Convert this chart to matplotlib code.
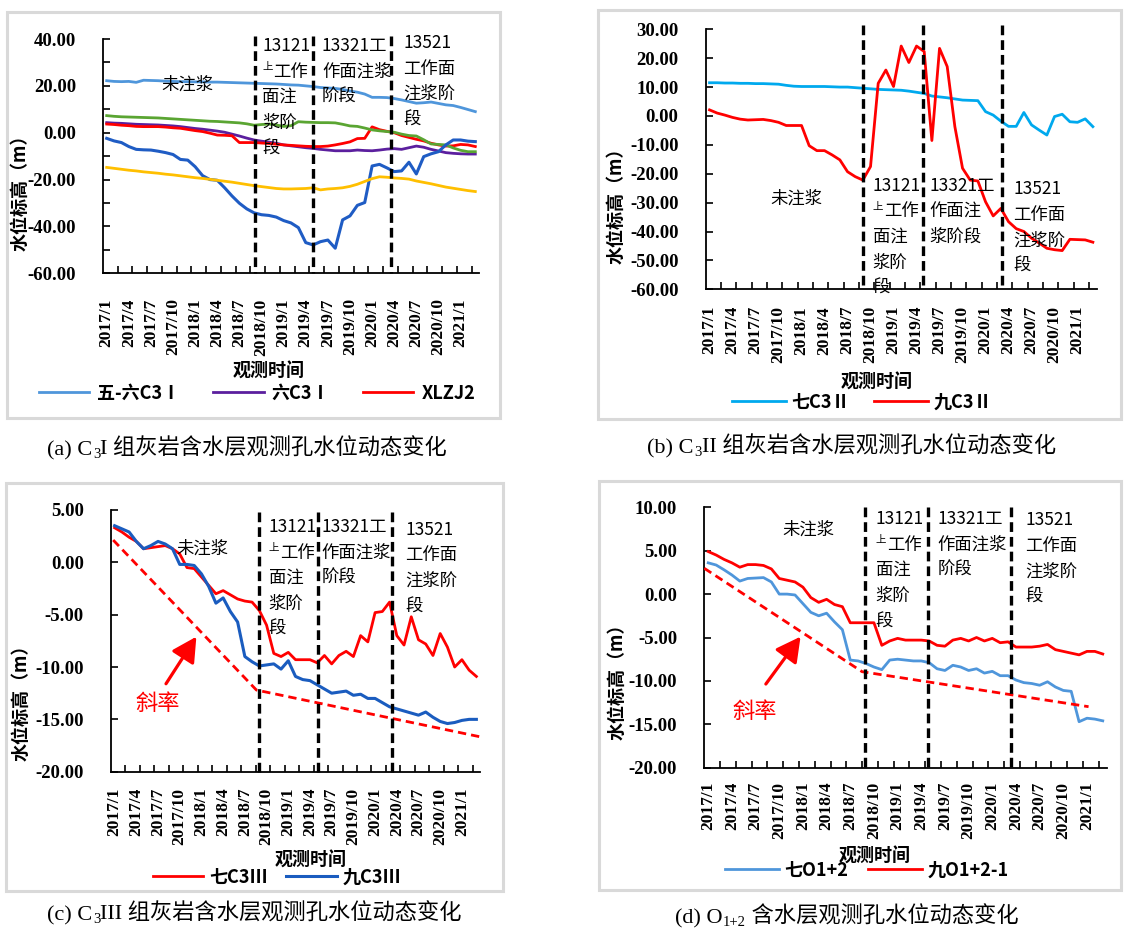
import numpy as np
import matplotlib
matplotlib.use("Agg")
import matplotlib.pyplot as plt
from matplotlib.patches import Rectangle
from matplotlib.ticker import FormatStrFormatter

plt.rcParams["lines.scale_dashes"] = False

CJK = ["Noto Sans CJK SC", "DejaVu Sans"]
SERIF = ["Liberation Serif", "Noto Sans CJK SC"]

W, H = 1124, 930

# ---- data (monthly, 2017/1 .. 2021/3) ----
months = np.arange(51)
label_idx = np.arange(0, 49, 3)
tick_labels = ["2017/1", "2017/4", "2017/7", "2017/10",
               "2018/1", "2018/4", "2018/7", "2018/10",
               "2019/1", "2019/4", "2019/7", "2019/10",
               "2020/1", "2020/4", "2020/7", "2020/10", "2021/1"]

# (a) C3 I
a_wuliu = [22.2, 21.9, 21.8, 21.9, 21.5, 22.4, 22.3, 22.2, 22.0, 21.9,
           21.8, 21.8, 21.7, 21.7, 21.6, 21.6, 21.5, 21.4, 21.3, 21.2,
           21.1, 21.0, 20.9, 20.8, 20.6, 20.4, 20.3, 20.0, 19.7, 19.3,
           19.1, 18.9, 18.5, 17.8, 17.3, 16.5, 15.1, 15.1, 15.0, 14.6,
           14.0, 13.3, 12.6, 12.8, 13.1, 12.5, 11.9, 11.6, 10.8, 9.9, 9.0]
a_liu = [4.3, 4.1, 4.0, 3.8, 3.6, 3.5, 3.4, 3.3, 3.1, 2.9,
         2.6, 2.2, 1.8, 1.5, 1.1, 0.7, 0.2, -0.6, -1.4, -2.3,
         -3.1, -3.6, -4.0, -4.5, -5.2, -5.6, -6.0, -6.4, -6.7, -7.1,
         -7.4, -7.7, -7.7, -7.7, -7.4, -7.6, -7.7, -7.4, -7.0, -6.8,
         -7.1, -6.4, -5.7, -6.2, -7.1, -7.8, -8.5, -8.8, -9.0, -9.1, -9.1]
a_xlzj2 = [3.7, 3.5, 3.2, 3.0, 2.7, 2.6, 2.6, 2.6, 2.4, 2.1,
           1.9, 1.4, 0.9, 0.5, -0.2, -1.0, -1.1, -1.3, -4.2, -4.2,
           -4.2, -4.4, -4.6, -4.9, -5.2, -5.4, -5.6, -5.8, -5.9, -5.9,
           -5.7, -5.2, -4.6, -3.9, -2.5, -2.4, 2.5, 1.3, 0.6, 0.0,
           -1.2, -2.0, -2.8, -3.5, -4.5, -5.2, -5.7, -5.6, -5.0, -5.2, -5.9]
a_green = [7.3, 7.0, 6.8, 6.7, 6.6, 6.5, 6.4, 6.3, 6.1, 5.9,
           5.7, 5.5, 5.3, 5.1, 4.9, 4.8, 4.6, 4.4, 4.2, 3.8,
           3.2, 3.5, 3.7, 3.3, 2.7, 3.0, 4.7, 4.5, 4.4, 4.3,
           4.3, 4.2, 3.6, 2.9, 2.7, 2.0, 1.2, 0.8, 0.5, 0.2,
           -0.6, -1.2, -1.4, -3.0, -4.8, -5.0, -5.2, -6.5, -7.5, -8.1, -8.1]
a_blue = [-2.4, -3.5, -4.2, -5.9, -7.1, -7.3, -7.4, -7.9, -8.5, -9.3,
          -11.4, -11.7, -14.5, -18.3, -20.0, -20.3, -23.5, -27.0, -30.1, -32.5,
          -34.2, -35.0, -35.3, -36.0, -37.5, -38.5, -40.5, -46.9, -47.9, -46.5,
          -45.8, -49.3, -37.2, -35.5, -31.0, -29.8, -14.2, -13.5, -15.0, -16.6,
          -16.3, -12.6, -17.6, -10.2, -9.0, -8.1, -5.2, -3.1, -3.1, -3.6, -3.8]
a_orange = [-14.8, -15.2, -15.6, -16.0, -16.3, -16.7, -17.0, -17.3, -17.7, -18.0,
            -18.4, -18.8, -19.2, -19.5, -19.9, -20.3, -20.7, -21.1, -21.6, -22.1,
            -22.6, -23.0, -23.4, -23.8, -24.0, -24.0, -23.9, -23.8, -23.5, -24.4,
            -24.0, -23.8, -23.5, -22.9, -22.0, -20.8, -19.6, -18.8, -19.0, -19.3,
            -19.5, -19.8, -20.6, -21.2, -21.8, -22.5, -23.2, -23.7, -24.2, -24.7, -25.1]

# (b) C3 II
b_qi = [11.5, 11.5, 11.4, 11.4, 11.3, 11.3, 11.2, 11.2, 11.1, 11.0,
        10.6, 10.3, 10.2, 10.2, 10.2, 10.2, 10.1, 10.0, 10.0, 9.8,
        9.6, 9.4, 9.2, 9.1, 9.0, 8.9, 8.6, 8.2, 7.8, 6.9,
        6.6, 6.3, 5.9, 5.5, 5.4, 5.3, 1.5, 0.3, -1.8, -3.6,
        -3.6, 1.2, -3.1, -4.9, -6.6, -0.2, 0.6, -2.0, -2.2, -1.0, -3.7]
b_jiu = [2.1, 1.0, 0.3, -0.5, -1.1, -1.4, -1.3, -1.2, -1.6, -2.2,
         -3.3, -3.3, -3.3, -10.3, -12.0, -12.0, -13.5, -15.2, -19.3, -21.0,
         -22.2, -17.5, 11.3, 15.9, 10.2, 24.2, 18.5, 24.2, 22.3, -8.5,
         23.4, 17.1, -3.7, -18.1, -22.2, -22.5, -29.7, -34.6, -32.0, -36.6,
         -39.0, -40.0, -42.3, -44.0, -45.8, -46.3, -46.6, -42.7, -42.8, -42.9, -43.7]

# (c) C3 III
c_qi = [3.3, 2.9, 2.4, 2.0, 1.3, 1.4, 1.5, 1.6, 1.3, 0.8,
        -0.5, -0.6, -1.4, -2.2, -3.0, -2.7, -3.1, -3.5, -3.7, -3.8,
        -4.6, -6.0, -8.7, -9.0, -8.6, -9.3, -9.3, -9.3, -9.6, -8.9,
        -9.7, -8.9, -8.5, -9.0, -7.0, -7.6, -4.8, -4.7, -3.8, -7.0,
        -7.9, -5.2, -7.4, -7.8, -8.9, -6.8, -8.1, -10.0, -9.3, -10.3, -10.9]
c_jiu = [3.5, 3.2, 2.9, 2.0, 1.3, 1.6, 2.0, 1.75, 1.3, -0.2,
         -0.2, -0.3, -1.1, -2.3, -3.9, -3.4, -4.7, -5.7, -9.0, -9.5,
         -9.9, -9.8, -9.7, -10.2, -9.4, -10.9, -11.2, -11.3, -11.7, -12.1,
         -12.5, -12.4, -12.3, -12.7, -12.6, -13.0, -13.0, -13.4, -13.8, -14.0,
         -14.2, -14.4, -14.6, -14.3, -14.8, -15.2, -15.4, -15.3, -15.1, -15.0, -15.0]
c_slope_x = [-0.2, 19.6, 50.4]
c_slope_y = [2.13, -12.2, -16.65]

# (d) O1+2
d_qi = [3.6, 3.35, 2.8, 2.2, 1.5, 1.8, 1.85, 1.9, 1.4, 0.0,
        0.0, -0.1, -1.1, -2.1, -2.5, -2.2, -3.2, -4.1, -7.6, -7.7,
        -8.0, -8.4, -8.7, -7.6, -7.5, -7.6, -7.7, -7.7, -7.9, -8.6,
        -8.8, -8.2, -8.4, -8.8, -8.6, -9.1, -8.9, -9.4, -9.4, -9.9,
        -10.2, -10.3, -10.5, -10.1, -10.7, -11.1, -11.2, -14.7, -14.3, -14.4, -14.6]
d_jiu = [4.9, 4.5, 4.0, 3.6, 3.1, 3.4, 3.4, 3.3, 2.9, 1.8,
         1.6, 1.4, 0.8, -0.4, -0.95, -0.6, -1.2, -1.45, -3.3, -3.3,
         -3.3, -3.3, -5.9, -5.4, -5.1, -5.3, -5.3, -5.3, -5.4, -5.9,
         -6.0, -5.3, -5.1, -5.4, -5.0, -5.4, -5.1, -5.6, -5.5, -6.1,
         -6.1, -6.1, -6.0, -5.8, -6.4, -6.6, -6.8, -7.0, -6.6, -6.6, -6.9]
d_slope_x = [-0.5, 19.5, 48.2]
d_slope_y = [2.97, -8.94, -12.97]

stages_a = [20.1, 28.0, 38.6]
stages_b = [20.0, 27.9, 38.2]
stages_c = [20.0, 28.1, 38.35]
stages_d = [19.9, 27.9, 38.4]

fig = plt.figure(figsize=(W / 100, H / 100), dpi=100)


def fpos(x, y):
    return x / W, 1 - y / H


def panel(box, rect, ylim, ystep, yminor, xpad):
    l, t, r, b = box
    fig.add_artist(Rectangle(fpos(l, b), (r - l) / W, (b - t) / H,
                             transform=fig.transFigure, fill=False,
                             ec="#D9D9D9", lw=2.2))
    l, t, r, b = rect
    ax = fig.add_axes([l / W, 1 - b / H, (r - l) / W, (b - t) / H])
    ax.patch.set_alpha(0)
    ax.set_xlim(-0.5, len(months) - 0.5)
    ax.set_ylim(ylim)
    ax.spines[["top", "right"]].set_visible(False)
    ax.spines[["left", "bottom"]].set_linewidth(1.3)
    ax.set_yticks(np.arange(ylim[0], ylim[1] + 0.01, ystep))
    if yminor:
        ax.set_yticks(np.arange(ylim[0] + ystep / 2, ylim[1], ystep), minor=True)
    ax.yaxis.set_major_formatter(FormatStrFormatter("%.2f"))
    ax.tick_params(axis="y", which="both", direction="in", length=5,
                   width=1.2, pad=19.5)
    ax.set_xticks(np.arange(1.5, len(months) - 0.5, 2))
    ax.set_xticks(label_idx, minor=True)
    ax.set_xticklabels(tick_labels, minor=True, rotation=90)
    ax.tick_params(axis="x", which="major", direction="in", length=5,
                   width=1.2, labelbottom=False)
    ax.tick_params(axis="x", which="minor", length=0, pad=xpad)
    for lab in ax.get_yticklabels():
        lab.set_fontfamily(SERIF)
        lab.set_fontweight("bold")
        lab.set_fontsize(13.5)
    for lab in ax.get_xticklabels(minor=True):
        lab.set_fontfamily(SERIF)
        lab.set_fontweight("bold")
        lab.set_fontsize(12.5)
    return ax


def stage_lines(ax, xs, ytop):
    for x in xs:
        ax.plot([x, x], [ytop, ax.get_ylim()[0]], color="k", lw=2.4,
                dashes=(7, 3.6), clip_on=False, zorder=5)


LSP = 18.4


def stage(ax, x, y, lines):
    kw = dict(textcoords="offset points", family=CJK, va="center",
              ha="left", annotation_clip=False, zorder=6)
    for k, line in enumerate(lines):
        dy = -k * LSP
        if line.startswith("上"):
            ax.annotate("上", (x, y), xytext=(0, dy + 3), fontsize=7.5, **kw)
            ax.annotate(line[1:], (x, y), xytext=(8, dy), fontsize=12.5, **kw)
        else:
            ax.annotate(line, (x, y), xytext=(0, dy), fontsize=12.5, **kw)


def untreated(ax, x, y):
    ax.text(x, y, "未注浆", family=CJK, fontsize=12.5, ha="center",
            va="center", zorder=6)


def labels(ylab, xlab):
    fig.text(*fpos(*ylab), "水位标高（m）", rotation=90, ha="center",
             va="center", family=CJK, fontweight="bold", fontsize=13)
    fig.text(*fpos(*xlab), "观测时间", ha="center", va="center",
             family=CJK, fontweight="bold", fontsize=13)


def legend(handles, names, center, hl, tp, cs):
    fig.legend(handles, names, loc="center", bbox_to_anchor=fpos(*center),
               ncol=len(handles), frameon=False, handlelength=hl,
               handletextpad=tp, columnspacing=cs, borderpad=0,
               borderaxespad=0,
               prop=dict(family=CJK, weight="bold", size=13))


def caption(ax, x, y, parts):
    prev = fig.text(*fpos(x, y), parts[0], family=SERIF, fontsize=16,
                    va="baseline", ha="left")
    yb = 1 - y / H
    for k, txt in enumerate(parts[1:]):
        sub = k == 0
        prev = ax.annotate(txt, (1, yb), xycoords=(prev, "figure fraction"),
                           xytext=(0.5 if sub else 0, -2.5 if sub else 0),
                           textcoords="offset points",
                           family=SERIF, fontsize=10.5 if sub else 16,
                           va="baseline", ha="left", annotation_clip=False)


def slope(ax, xs, ys, tail, head, txt_pos):
    ax.plot(xs, ys, color="red", lw=2.0, dashes=(6, 3.6), zorder=3)
    ax.annotate("", xy=head, xytext=tail,
                arrowprops=dict(arrowstyle="-|>,head_length=0.75,head_width=0.4",
                                color="red", lw=2.3, mutation_scale=20,
                                shrinkA=0, shrinkB=0))
    ax.text(*txt_pos, "斜率", color="red", family=CJK, fontsize=16,
            ha="center", va="center")


# ---- (a) ----
ax = panel((7, 12, 500, 418), (103, 39, 479, 273.3), (-60, 40), 20, True, 18)
la1, = ax.plot(months, a_wuliu, color="#4F96DB", lw=2.0)
la2, = ax.plot(months, a_liu, color="#5B1F9E", lw=2.0)
la3, = ax.plot(months, a_xlzj2, color="#FF0000", lw=2.0)
ax.plot(months, a_green, color="#5AA532", lw=2.0)
ax.plot(months, a_blue, color="#1F5CC4", lw=2.2)
ax.plot(months, a_orange, color="#FFBF00", lw=2.0)
stage_lines(ax, stages_a, 41.3)
untreated(ax, 10.9, 20.4)
stage(ax, 21.1, 37.0, ["13121", "上工作", "面注", "浆阶", "段"])
stage(ax, 29.2, 37.0, ["13321工", "作面注浆", "阶段"])
stage(ax, 40.2, 38.3, ["13521", "工作面", "注浆阶", "段"])
labels((20, 188), (269, 371))
legend([la1, la2, la3], ["五-六C3Ⅰ", "六C3Ⅰ", "XLZJ2"], (257, 393), 2.8, 0.45, 1.8)
caption(ax, 47, 455, ["(a) C", "3", "I 组灰岩含水层观测孔水位动态变化"])

# ---- (b) ----
ax = panel((598, 10, 1121, 419), (705.7, 29.3, 1096.7, 289.3), (-60, 30), 10, False, 12)
lb1, = ax.plot(months, b_qi, color="#00A9EE", lw=2.0)
lb2, = ax.plot(months, b_jiu, color="#FF0000", lw=2.0)
stage_lines(ax, stages_b, 31.5)
untreated(ax, 11.4, -28.7)
stage(ax, 21.3, -24.2, ["13121", "上工作", "面注", "浆阶", "段"])
stage(ax, 28.7, -24.2, ["13321工", "作面注", "浆阶段"])
stage(ax, 39.6, -25.3, ["13521", "工作面", "注浆阶", "段"])
labels((616, 201), (877, 382))
legend([lb1, lb2], ["七C3Ⅱ", "九C3Ⅱ"], (862, 402), 3.0, 0.3, 1.3)
caption(ax, 647, 453, ["(b) C", "3", "II 组灰岩含水层观测孔水位动态变化"])

# ---- (c) ----
ax = panel((6, 483, 503, 891), (111, 510, 480, 771.7), (-20, 5), 5, False, 11.5)
lc1, = ax.plot(months, c_qi, color="#FF0000", lw=2.0)
lc2, = ax.plot(months, c_jiu, color="#1A5CBF", lw=2.2)
slope(ax, c_slope_x, c_slope_y, (7.1, -11.6), (11.3, -7.1), (6.0, -13.5))
stage_lines(ax, stages_c, 4.8)
untreated(ax, 12.2, 1.27)
stage(ax, 21.3, 3.38, ["13121", "上工作", "面注", "浆阶", "段"])
stage(ax, 28.6, 3.38, ["13321工", "作面注浆", "阶段"])
stage(ax, 40.2, 3.1, ["13521", "工作面", "注浆阶", "段"])
labels((21, 698), (311, 860))
legend([lc1, lc2], ["七C3Ⅲ", "九C3Ⅲ"], (277, 877), 2.8, 0.3, 1.05)
caption(ax, 47, 920, ["(c) C", "3", "III 组灰岩含水层观测孔水位动态变化"])

# ---- (d) ----
ax = panel((599, 481, 1121, 890), (704.3, 507.3, 1106.7, 767.7), (-20, 10), 5, False, 10)
ld1, = ax.plot(months, d_qi, color="#4F96DB", lw=2.0)
ld2, = ax.plot(months, d_jiu, color="#FF0000", lw=2.0)
slope(ax, d_slope_x, d_slope_y, (7.3, -10.36), (11.7, -4.9), (5.9, -13.55))
stage_lines(ax, stages_d, 10.0)
untreated(ax, 12.7, 7.4)
stage(ax, 21.2, 8.65, ["13121", "上工作", "面注", "浆阶", "段"])
stage(ax, 29.1, 8.65, ["13321工", "作面注浆", "阶段"])
stage(ax, 40.2, 8.5, ["13521", "工作面", "注浆阶", "段"])
labels((617, 677), (875, 856))
legend([ld1, ld2], ["七O1+2", "九O1+2-1"], (867, 870), 3.0, 0.3, 1.1)
caption(ax, 675, 923, ["(d) O", "1+2", " 含水层观测孔水位动态变化"])

fig.savefig("out.png", dpi=100)
